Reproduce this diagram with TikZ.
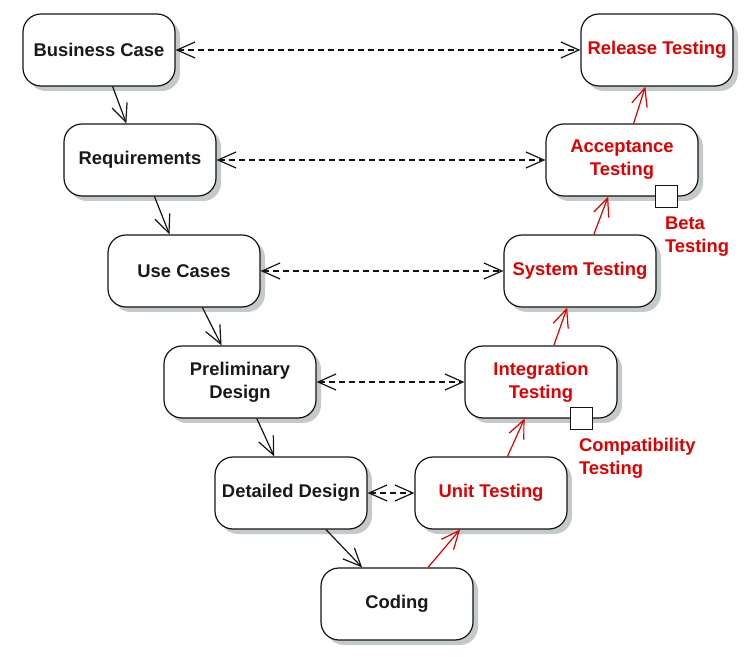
\documentclass[tikz,border=0pt]{standalone}
\usepackage{fontspec}
\setmainfont{Liberation Sans}
\usepackage{tikz}
\usetikzlibrary{shapes,arrows.meta,shadows,calc}
\usetikzlibrary{positioning}
\definecolor{clrText}{RGB}{25,25,25}
\definecolor{clrTest}{RGB}{224,0,0}
\definecolor{clrShadow}{RGB}{196,201,201}
\definecolor{clrBorders}{RGB}{20,20,20}
\tikzstyle{box_style0}=[draw=clrBorders, line width=0.6pt, rounded corners=9pt, fill=white,
anchor=center, align=center, font=\bfseries\fontsize{9.2}{11.5}\selectfont,
preaction={draw=none, fill=clrShadow, transform canvas={xshift=2.5pt, yshift=-2.5pt}}]
\tikzstyle{phase}=[box_style0, minimum width=76pt, minimum height=36pt, text=clrText]
\tikzstyle{testphase}=[phase, text=clrTest]
\tikzstyle{port}=[draw=clrBorders, line width=0.6pt, fill=white, minimum size=11pt, inner sep=0pt]
\tikzstyle{portlabel}=[anchor=north west, align=left, inner sep=0pt, text=clrTest,
font=\bfseries\fontsize{9.2}{11.5}\selectfont]
\tikzstyle{myarrow}=[->, >={Straight Barb[length=9pt, width=8pt]}, line width=0.6pt, draw=clrBorders]
\tikzstyle{testarrow}=[myarrow, draw=clrTest]
\tikzstyle{trace}=[myarrow, <->, dash pattern=on 3pt off 2pt]

\begin{document}
\begin{tikzpicture}[x=0.5pt, y=-0.5pt]
		\useasboundingbox (0,0) rectangle (755,657);

		% left leg: specification
		\node[phase] (BC) at (99,50) {Business Case} ;
		\node[phase] (RQ) at (140,160) {Requirements} ;
		\node[phase] (UC) at (184,271) {Use Cases} ;
		\node[phase] (PD) at (240,382) {Preliminary\\Design} ;
		\node[phase] (DD) at (291,493) {Detailed Design} ;
		\node[phase] (CO) at (397,604) {Coding} ;

		% right leg: testing
		\node[testphase] (UT) at (491,493) {Unit Testing} ;
		\node[testphase] (IT) at (541,382) {Integration\\Testing} ;
		\node[testphase] (ST) at (580,271) {System Testing} ;
		\node[testphase] (AT) at (622,160) {Acceptance\\Testing} ;
		\node[testphase] (RT) at (657,50) {Release Testing} ;

		\node[port] (ITport) at ([xshift=-18pt]IT.south east) {} ;
		\node[portlabel] (ITlabel) at ([xshift=-1.5pt, yshift=-4pt]ITport.south) {Compatibility\\Testing} ;
		\node[port] (ATport) at ([xshift=-16pt]AT.south east) {} ;
		\node[portlabel] (ATlabel) at ([xshift=-1pt, yshift=-4pt]ATport.south) {Beta\\Testing} ;

		\draw[myarrow] (BC) -- (RQ) ;
		\draw[myarrow] (RQ) -- (UC) ;
		\draw[myarrow] (UC) -- (PD) ;
		\draw[myarrow] (PD) -- (DD) ;
		\draw[myarrow] (DD) -- (CO) ;

		\draw[testarrow] (CO) -- (UT) ;
		\draw[testarrow] (UT) -- (IT) ;
		\draw[testarrow] (IT) -- (ST) ;
		\draw[testarrow] (ST) -- (AT) ;
		\draw[testarrow] (AT) -- (RT) ;

		\draw[trace] (BC) -- (RT) ;
		\draw[trace] (RQ) -- (AT) ;
		\draw[trace] (UC) -- (ST) ;
		\draw[trace] (PD) -- (IT) ;
		\draw[trace] (DD) -- (UT) ;
\end{tikzpicture}
\end{document}
